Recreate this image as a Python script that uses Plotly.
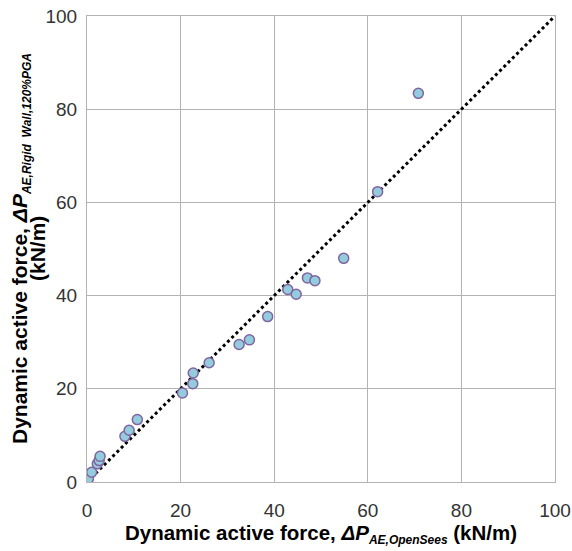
import plotly.graph_objects as go

x_opensees = [0.3, 1.0, 2.2, 2.6, 2.8, 8.1, 9.0, 10.75, 20.4, 22.6, 22.7, 26.1,
              32.5, 34.7, 38.6, 42.9, 44.7, 47.1, 48.7, 54.85, 62.1, 70.8]
y_rigid = [0.7, 2.1, 3.9, 4.6, 5.5, 9.8, 11.1, 13.4, 19.1, 21.1, 23.4, 25.6,
           29.5, 30.5, 35.5, 41.3, 40.3, 43.8, 43.2, 48.0, 62.3, 83.4]
line_x = [0, 100]
line_y = [0, 100]
tick_vals = [0, 20, 40, 60, 80, 100]

FONT = "Liberation Sans, Arial"
SUB = '<sub><span style="font-size:12px"><i>{}</i></span></sub>'

fig = go.Figure()
fig.add_trace(go.Scatter(x=line_x, y=line_y, mode="lines",
                         line=dict(color="black", width=3, dash="dot"),
                         showlegend=False, hoverinfo="skip"))
fig.add_trace(go.Scatter(x=x_opensees, y=y_rigid, mode="markers",
                         marker=dict(size=10, color="#93CDDD",
                                     line=dict(color="#8064A2", width=1.5)),
                         showlegend=False))

axis_common = dict(range=[0, 100], tickvals=tick_vals, showgrid=True,
                   gridcolor="#B3B3B3", gridwidth=1, zeroline=False,
                   showline=True, linecolor="#B3B3B3", linewidth=1, mirror=True,
                   ticks="", automargin=False,
                   tickfont=dict(family=FONT, size=19, color="#333"))

fig.update_layout(
    width=572, height=551,
    margin=dict(l=87, r=17, t=16, b=69),
    paper_bgcolor="white", plot_bgcolor="white",
    xaxis=dict(**axis_common, ticklabelstandoff=11,
               title=dict(text="<b>Dynamic active force, <i>ΔP</i>" + SUB.format("AE,OpenSees") + " (kN/m)</b>",
                          font=dict(family=FONT, size=20.5, color="black"),
                          standoff=5)),
    yaxis=dict(**axis_common, ticklabelstandoff=5),
)

fig.add_annotation(text="<b>Dynamic active force, <i>ΔP</i>" + SUB.format("AE,Rigid  Wall,120%PGA") + "</b>",
                   xref="paper", yref="paper", x=(21 - 87) / 468, y=0.5,
                   xanchor="center", yanchor="middle", textangle=-90, showarrow=False,
                   font=dict(family=FONT, size=21, color="black"))
fig.add_annotation(text="<b>(kN/m)</b>",
                   xref="paper", yref="paper", x=(37 - 87) / 468, y=0.5,
                   xanchor="center", yanchor="middle", textangle=-90, showarrow=False,
                   font=dict(family=FONT, size=21, color="black"))
fig.write_html("out.html")
